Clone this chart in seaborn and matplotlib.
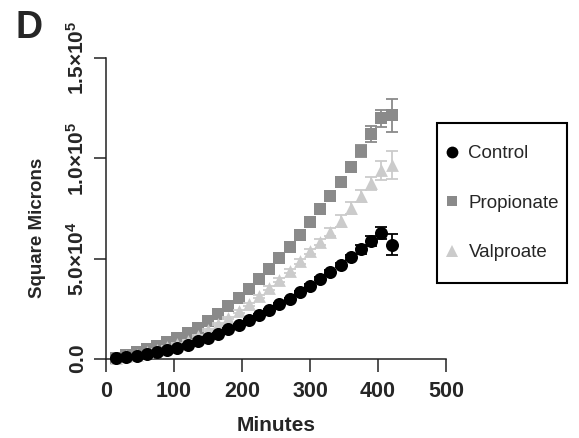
import matplotlib
matplotlib.use("Agg")
import matplotlib.pyplot as plt
from matplotlib.lines import Line2D
from matplotlib.patches import Rectangle
import seaborn as sns
import pandas as pd

sns.set_style("ticks")
plt.rcParams['font.family'] = ['Liberation Sans', 'DejaVu Sans']
plt.rcParams['mathtext.fontset'] = 'custom'
plt.rcParams['mathtext.rm'] = 'Liberation Sans'
plt.rcParams['mathtext.bf'] = 'Liberation Sans:bold'

# ---- data ----
minutes = [15, 30, 45, 60, 75, 90, 105, 120, 135, 150, 165, 180, 195, 210,
           225, 240, 255, 270, 285, 300, 315, 330, 345, 360, 375, 390, 405, 420]

control = [300, 800, 1300, 2300, 3300, 4300, 5500, 7100, 8800, 10500, 12600, 14900,
           17100, 19300, 21900, 24500, 27400, 30000, 33200, 36500, 40100, 43600,
           46900, 50700, 54700, 58700, 62800, 56900]
control_sem = [100, 100, 150, 150, 200, 200, 250, 250, 300, 300, 350, 400, 400, 450,
               500, 500, 600, 600, 700, 800, 900, 1000, 1100, 1300, 2300, 2500, 3000, 5300]

propionate = [700, 2000, 3300, 4800, 6600, 8600, 10400, 12900, 15400, 18700, 22300,
              26200, 30300, 34800, 39700, 44800, 50200, 55700, 61800, 68100, 74600,
              81400, 88400, 95800, 103700, 112000, 119900, 121500]
propionate_sem = [100, 150, 200, 250, 300, 350, 400, 450, 500, 550, 600, 650, 700, 750,
                  800, 850, 900, 950, 1000, 1000, 1000, 1100, 1200, 1500, 3000, 4000, 4300, 8300]

valproate = [500, 1300, 2200, 3300, 4500, 5900, 7400, 9200, 11400, 14300, 17400, 20400,
             23800, 27400, 31300, 35300, 39500, 43900, 48600, 53600, 58500, 63500,
             68800, 75300, 81200, 87600, 94000, 96700]
valproate_sem = [100, 150, 200, 250, 300, 350, 400, 450, 500, 550, 600, 650, 700, 750,
                 800, 900, 1000, 1100, 1200, 1300, 1500, 2000, 2800, 3000, 3100, 3300, 4600, 6800]

groups = ['Control', 'Propionate', 'Valproate']
colors = {'Control': '#000000', 'Propionate': '#8a8a8a', 'Valproate': '#cbcbcb'}
markers = {'Control': 'o', 'Propionate': 's', 'Valproate': '^'}
sizes = {'Control': 88, 'Propionate': 70, 'Valproate': 85}

yticks = [0, 50000, 100000, 150000]
ytick_labels = [r'$\mathbf{0.0}$', r'$\mathbf{5.0{\times}10^{4}}$',
                r'$\mathbf{1.0{\times}10^{5}}$', r'$\mathbf{1.5{\times}10^{5}}$']
xticks = [0, 100, 200, 300, 400, 500]

df = pd.DataFrame({
    'Minutes': minutes * 3,
    'Area': control + propionate + valproate,
    'SEM': control_sem + propionate_sem + valproate_sem,
    'Group': ['Control'] * len(minutes) + ['Propionate'] * len(minutes) + ['Valproate'] * len(minutes),
})

fig = plt.figure(figsize=(5.79, 4.38), dpi=100)
ax = fig.add_axes([106 / 579, 1 - 359 / 438, 340 / 579, 301 / 438])

zorders = {'Propionate': 2, 'Valproate': 4, 'Control': 6}
for g in ['Propionate', 'Valproate', 'Control']:
    sub = df[df['Group'] == g]
    ax.errorbar(sub['Minutes'], sub['Area'], yerr=sub['SEM'], fmt='none',
                ecolor=colors[g], elinewidth=1.3, capsize=4.3, capthick=1.3,
                zorder=zorders[g], clip_on=False)
    sns.scatterplot(data=sub, x='Minutes', y='Area', marker=markers[g],
                    color=colors[g], s=sizes[g], linewidth=0, ax=ax,
                    zorder=zorders[g] + 1, clip_on=False, legend=False)

ax.set_xlim(0, 500)
ax.set_ylim(0, 150000)
ax.set_xticks(xticks)
ax.set_xticklabels([str(t) for t in xticks], fontsize=15.5, fontweight='bold')
ax.set_yticks(yticks)
ax.set_yticklabels(ytick_labels, fontsize=15, rotation=90, va='center')
sns.despine(ax=ax)
for sp in ['left', 'bottom']:
    ax.spines[sp].set_linewidth(1.1)
    ax.spines[sp].set_color('#222222')
ax.tick_params(axis='both', length=9, width=1.1, color='#222222')
ax.tick_params(axis='x', pad=7)
ax.tick_params(axis='y', pad=4)

ax.set_xlabel('Minutes', fontsize=15, fontweight='bold', labelpad=10)
ax.set_ylabel('Square Microns', fontsize=13.5, fontweight='bold')
ax.yaxis.set_label_coords(-0.176, 0.435)

fig.text(15 / 579, 1 - 38 / 438, 'D', fontsize=27, fontweight='bold',
         ha='left', va='baseline')

handles = [Line2D([0], [0], marker=markers[g], color='none', markerfacecolor=colors[g],
                  markeredgewidth=0, markersize={'Control': 8.5, 'Propionate': 7.2, 'Valproate': 8.0}[g])
           for g in groups]
ax.legend(handles, groups, loc='upper left', bbox_to_anchor=(445 / 579, 1 - 145 / 438),
          bbox_transform=fig.transFigure, frameon=False, fontsize=13.5,
          handlelength=0.75, handletextpad=0.5, labelspacing=1.73, borderpad=0,
          borderaxespad=0)
fig.patches.append(Rectangle((437 / 579, 1 - 283 / 438), 130 / 579, 160 / 438,
                             transform=fig.transFigure, fill=False, lw=1.5,
                             ec='black', zorder=10))

fig.savefig('out.png', dpi=100)
